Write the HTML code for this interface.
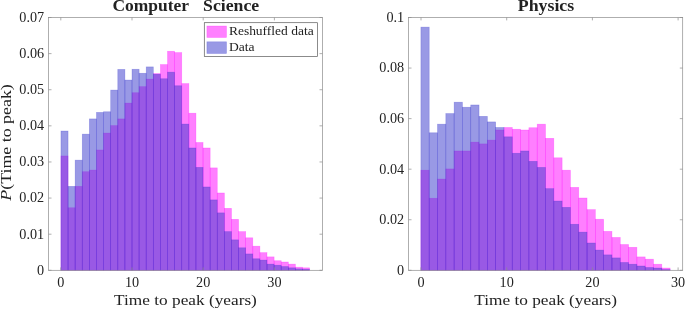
<!DOCTYPE html>
<html><head><meta charset="utf-8"><title>Time to peak</title>
<style>html,body{margin:0;padding:0;background:#fff}svg{display:block;will-change:transform}</style></head>
<body>
<svg width="685" height="309" viewBox="0 0 685 309" font-family="'Liberation Serif', serif" fill="#222">
<rect width="685" height="309" fill="#fff"/>
<g fill="#ff00ff" fill-opacity="0.5" stroke="#ff00ff" stroke-opacity="0.32" stroke-width="0.65">
<rect x="60.95" y="155.96" width="7.105" height="114.34"/>
<rect x="68.06" y="207.75" width="7.105" height="62.55"/>
<rect x="75.16" y="186.37" width="7.105" height="83.93"/>
<rect x="82.27" y="171.71" width="7.105" height="98.59"/>
<rect x="89.37" y="170.08" width="7.105" height="100.22"/>
<rect x="96.48" y="149.97" width="7.105" height="120.33"/>
<rect x="103.58" y="133.07" width="7.105" height="137.23"/>
<rect x="110.69" y="125.59" width="7.105" height="144.71"/>
<rect x="117.79" y="118.91" width="7.105" height="151.39"/>
<rect x="124.90" y="103.09" width="7.105" height="167.21"/>
<rect x="132.00" y="92.73" width="7.105" height="177.57"/>
<rect x="139.11" y="86.66" width="7.105" height="183.64"/>
<rect x="146.21" y="79.11" width="7.105" height="191.19"/>
<rect x="153.31" y="73.59" width="7.105" height="196.71"/>
<rect x="160.42" y="64.56" width="7.105" height="205.74"/>
<rect x="167.53" y="51.27" width="7.105" height="219.03"/>
<rect x="174.63" y="52.57" width="7.105" height="217.73"/>
<rect x="181.74" y="83.59" width="7.105" height="186.71"/>
<rect x="188.84" y="113.20" width="7.105" height="157.10"/>
<rect x="195.94" y="142.49" width="7.105" height="127.81"/>
<rect x="203.05" y="147.98" width="7.105" height="122.32"/>
<rect x="210.16" y="167.88" width="7.105" height="102.42"/>
<rect x="217.26" y="192.98" width="7.105" height="77.32"/>
<rect x="224.37" y="208.33" width="7.105" height="61.97"/>
<rect x="231.47" y="219.34" width="7.105" height="50.96"/>
<rect x="238.57" y="231.62" width="7.105" height="38.68"/>
<rect x="245.68" y="237.80" width="7.105" height="32.50"/>
<rect x="252.79" y="246.18" width="7.105" height="24.12"/>
<rect x="259.89" y="252.64" width="7.105" height="17.66"/>
<rect x="267.00" y="256.87" width="7.105" height="13.43"/>
<rect x="274.10" y="260.73" width="7.105" height="9.57"/>
<rect x="281.21" y="261.99" width="7.105" height="8.31"/>
<rect x="288.31" y="264.12" width="7.105" height="6.18"/>
<rect x="295.42" y="267.19" width="7.105" height="3.11"/>
<rect x="302.52" y="267.84" width="7.105" height="2.46"/>
</g>
<g fill="#3333cc" fill-opacity="0.5" stroke="#3333cc" stroke-opacity="0.32" stroke-width="0.65">
<rect x="60.95" y="131.01" width="7.105" height="139.29"/>
<rect x="68.06" y="186.37" width="7.105" height="83.93"/>
<rect x="75.16" y="160.15" width="7.105" height="110.15"/>
<rect x="82.27" y="134.15" width="7.105" height="136.15"/>
<rect x="89.37" y="118.91" width="7.105" height="151.39"/>
<rect x="96.48" y="112.41" width="7.105" height="157.89"/>
<rect x="103.58" y="111.76" width="7.105" height="158.54"/>
<rect x="110.69" y="90.09" width="7.105" height="180.21"/>
<rect x="117.79" y="69.40" width="7.105" height="200.90"/>
<rect x="124.90" y="80.05" width="7.105" height="190.25"/>
<rect x="132.00" y="69.25" width="7.105" height="201.05"/>
<rect x="139.11" y="73.26" width="7.105" height="197.04"/>
<rect x="146.21" y="66.90" width="7.105" height="203.40"/>
<rect x="153.31" y="74.20" width="7.105" height="196.10"/>
<rect x="160.42" y="78.75" width="7.105" height="191.55"/>
<rect x="167.53" y="72.14" width="7.105" height="198.16"/>
<rect x="174.63" y="85.76" width="7.105" height="184.54"/>
<rect x="181.74" y="124.07" width="7.105" height="146.23"/>
<rect x="188.84" y="147.98" width="7.105" height="122.32"/>
<rect x="195.94" y="167.37" width="7.105" height="102.93"/>
<rect x="203.05" y="186.98" width="7.105" height="83.32"/>
<rect x="210.16" y="199.91" width="7.105" height="70.39"/>
<rect x="217.26" y="212.88" width="7.105" height="57.42"/>
<rect x="224.37" y="231.62" width="7.105" height="38.68"/>
<rect x="231.47" y="239.86" width="7.105" height="30.44"/>
<rect x="238.57" y="247.80" width="7.105" height="22.50"/>
<rect x="245.68" y="253.94" width="7.105" height="16.36"/>
<rect x="252.79" y="258.78" width="7.105" height="11.52"/>
<rect x="259.89" y="260.08" width="7.105" height="10.22"/>
<rect x="267.00" y="264.12" width="7.105" height="6.18"/>
<rect x="274.10" y="265.24" width="7.105" height="5.06"/>
<rect x="281.21" y="266.54" width="7.105" height="3.76"/>
<rect x="288.31" y="267.84" width="7.105" height="2.46"/>
<rect x="295.42" y="268.86" width="7.105" height="1.44"/>
<rect x="302.52" y="269.29" width="7.105" height="1.01"/>
</g>
<g stroke="#8c8c8c" stroke-width="0.7" fill="none">
<rect x="48.6" y="17.5" width="273.80" height="252.80"/>
<path d="M60.80 270.3v-2.9M60.80 17.5v2.9"/>
<path d="M132.00 270.3v-2.9M132.00 17.5v2.9"/>
<path d="M203.20 270.3v-2.9M203.20 17.5v2.9"/>
<path d="M274.40 270.3v-2.9M274.40 17.5v2.9"/>
<path d="M48.6 270.30h2.9M322.4 270.30h-2.9"/>
<path d="M48.6 234.19h2.9M322.4 234.19h-2.9"/>
<path d="M48.6 198.07h2.9M322.4 198.07h-2.9"/>
<path d="M48.6 161.96h2.9M322.4 161.96h-2.9"/>
<path d="M48.6 125.84h2.9M322.4 125.84h-2.9"/>
<path d="M48.6 89.73h2.9M322.4 89.73h-2.9"/>
<path d="M48.6 53.61h2.9M322.4 53.61h-2.9"/>
<path d="M48.6 17.50h2.9M322.4 17.50h-2.9"/>
</g>
<g font-size="14.2">
<text x="60.80" y="286.7" text-anchor="middle">0</text>
<text x="132.00" y="286.7" text-anchor="middle">10</text>
<text x="203.20" y="286.7" text-anchor="middle">20</text>
<text x="274.40" y="286.7" text-anchor="middle">30</text>
<text x="44.20" y="274.65" text-anchor="end">0</text>
<text x="44.20" y="238.54" text-anchor="end">0.01</text>
<text x="44.20" y="202.42" text-anchor="end">0.02</text>
<text x="44.20" y="166.31" text-anchor="end">0.03</text>
<text x="44.20" y="130.19" text-anchor="end">0.04</text>
<text x="44.20" y="94.08" text-anchor="end">0.05</text>
<text x="44.20" y="57.96" text-anchor="end">0.06</text>
<text x="44.20" y="21.85" text-anchor="end">0.07</text>
</g>
<text x="114.10" y="304.5" font-size="15.6" textLength="142.8" lengthAdjust="spacingAndGlyphs">Time to peak (years)</text>
<text x="112.5" y="10.7" font-size="16.0" font-weight="bold" textLength="76.6" lengthAdjust="spacingAndGlyphs">Computer</text>
<text x="203.1" y="10.7" font-size="16.0" font-weight="bold" textLength="56.1" lengthAdjust="spacingAndGlyphs">Science</text>
<g fill="#ff00ff" fill-opacity="0.5" stroke="#ff00ff" stroke-opacity="0.32" stroke-width="0.65">
<rect x="420.90" y="170.19" width="8.307" height="100.11"/>
<rect x="429.21" y="198.25" width="8.307" height="72.05"/>
<rect x="437.51" y="179.04" width="8.307" height="91.26"/>
<rect x="445.82" y="168.93" width="8.307" height="101.37"/>
<rect x="454.13" y="150.98" width="8.307" height="119.32"/>
<rect x="462.44" y="150.98" width="8.307" height="119.32"/>
<rect x="470.74" y="142.13" width="8.307" height="128.17"/>
<rect x="479.05" y="143.90" width="8.307" height="126.40"/>
<rect x="487.36" y="140.11" width="8.307" height="130.19"/>
<rect x="495.66" y="130.00" width="8.307" height="140.30"/>
<rect x="503.97" y="127.47" width="8.307" height="142.83"/>
<rect x="512.28" y="129.24" width="8.307" height="141.06"/>
<rect x="520.58" y="130.00" width="8.307" height="140.30"/>
<rect x="528.89" y="127.72" width="8.307" height="142.58"/>
<rect x="537.20" y="124.18" width="8.307" height="146.12"/>
<rect x="545.50" y="138.34" width="8.307" height="131.96"/>
<rect x="553.81" y="157.80" width="8.307" height="112.50"/>
<rect x="562.12" y="170.19" width="8.307" height="100.11"/>
<rect x="570.43" y="187.38" width="8.307" height="82.92"/>
<rect x="578.73" y="198.00" width="8.307" height="72.30"/>
<rect x="587.04" y="209.63" width="8.307" height="60.67"/>
<rect x="595.35" y="219.23" width="8.307" height="51.07"/>
<rect x="603.65" y="231.37" width="8.307" height="38.93"/>
<rect x="611.96" y="237.44" width="8.307" height="32.86"/>
<rect x="620.27" y="244.51" width="8.307" height="25.79"/>
<rect x="628.58" y="247.30" width="8.307" height="23.00"/>
<rect x="636.88" y="256.90" width="8.307" height="13.40"/>
<rect x="645.19" y="259.18" width="8.307" height="11.12"/>
<rect x="653.50" y="264.23" width="8.307" height="6.07"/>
<rect x="661.80" y="268.02" width="8.307" height="2.28"/>
</g>
<g fill="#3333cc" fill-opacity="0.5" stroke="#3333cc" stroke-opacity="0.32" stroke-width="0.65">
<rect x="420.90" y="27.11" width="8.307" height="243.19"/>
<rect x="429.21" y="132.78" width="8.307" height="137.52"/>
<rect x="437.51" y="124.18" width="8.307" height="146.12"/>
<rect x="445.82" y="113.56" width="8.307" height="156.74"/>
<rect x="454.13" y="102.19" width="8.307" height="168.11"/>
<rect x="462.44" y="107.24" width="8.307" height="163.06"/>
<rect x="470.74" y="104.97" width="8.307" height="165.33"/>
<rect x="479.05" y="116.34" width="8.307" height="153.96"/>
<rect x="487.36" y="121.91" width="8.307" height="148.39"/>
<rect x="495.66" y="127.47" width="8.307" height="142.83"/>
<rect x="503.97" y="136.82" width="8.307" height="133.48"/>
<rect x="512.28" y="153.25" width="8.307" height="117.05"/>
<rect x="520.58" y="150.98" width="8.307" height="119.32"/>
<rect x="528.89" y="161.34" width="8.307" height="108.96"/>
<rect x="537.20" y="167.41" width="8.307" height="102.89"/>
<rect x="545.50" y="188.65" width="8.307" height="81.65"/>
<rect x="553.81" y="201.03" width="8.307" height="69.27"/>
<rect x="562.12" y="207.35" width="8.307" height="62.95"/>
<rect x="570.43" y="224.29" width="8.307" height="46.01"/>
<rect x="578.73" y="232.13" width="8.307" height="38.17"/>
<rect x="587.04" y="243.00" width="8.307" height="27.30"/>
<rect x="595.35" y="250.08" width="8.307" height="20.22"/>
<rect x="603.65" y="254.88" width="8.307" height="15.42"/>
<rect x="611.96" y="257.91" width="8.307" height="12.39"/>
<rect x="620.27" y="262.46" width="8.307" height="7.84"/>
<rect x="628.58" y="264.23" width="8.307" height="6.07"/>
<rect x="636.88" y="266.00" width="8.307" height="4.30"/>
<rect x="645.19" y="267.52" width="8.307" height="2.78"/>
<rect x="653.50" y="268.02" width="8.307" height="2.28"/>
<rect x="661.80" y="269.54" width="8.307" height="0.76"/>
</g>
<g stroke="#8c8c8c" stroke-width="0.7" fill="none">
<rect x="408.6" y="17.5" width="274.10" height="252.80"/>
<path d="M421.00 270.3v-2.9M421.00 17.5v2.9"/>
<path d="M506.70 270.3v-2.9M506.70 17.5v2.9"/>
<path d="M592.40 270.3v-2.9M592.40 17.5v2.9"/>
<path d="M678.10 270.3v-2.9M678.10 17.5v2.9"/>
<path d="M408.6 270.30h2.9M682.7 270.30h-2.9"/>
<path d="M408.6 219.74h2.9M682.7 219.74h-2.9"/>
<path d="M408.6 169.18h2.9M682.7 169.18h-2.9"/>
<path d="M408.6 118.62h2.9M682.7 118.62h-2.9"/>
<path d="M408.6 68.06h2.9M682.7 68.06h-2.9"/>
<path d="M408.6 17.50h2.9M682.7 17.50h-2.9"/>
</g>
<g font-size="14.2">
<text x="421.00" y="286.7" text-anchor="middle">0</text>
<text x="506.70" y="286.7" text-anchor="middle">10</text>
<text x="592.40" y="286.7" text-anchor="middle">20</text>
<text x="678.10" y="286.7" text-anchor="middle">30</text>
<text x="404.20" y="274.65" text-anchor="end">0</text>
<text x="404.20" y="224.09" text-anchor="end">0.02</text>
<text x="404.20" y="173.53" text-anchor="end">0.04</text>
<text x="404.20" y="122.97" text-anchor="end">0.06</text>
<text x="404.20" y="72.41" text-anchor="end">0.08</text>
<text x="404.20" y="21.85" text-anchor="end">0.1</text>
</g>
<text x="474.25" y="304.5" font-size="15.6" textLength="142.8" lengthAdjust="spacingAndGlyphs">Time to peak (years)</text>
<text x="517.8" y="10.7" font-size="16.0" font-weight="bold" textLength="56.4" lengthAdjust="spacingAndGlyphs">Physics</text>
<text transform="translate(11.2 200.7) rotate(-90)" font-size="15.6" textLength="116.5" lengthAdjust="spacingAndGlyphs"><tspan font-style="italic">P</tspan>(Time to peak)</text>
<rect x="204.3" y="22.7" width="113.2" height="33.8" fill="#fff" stroke="#5a5a5a" stroke-width="0.7"/>
<rect x="206.9" y="26" width="19.6" height="11.5" fill="#ff00ff" fill-opacity="0.5" stroke="#ff00ff" stroke-opacity="0.32" stroke-width="0.65"/>
<rect x="206.9" y="41.8" width="19.6" height="11.7" fill="#3333cc" fill-opacity="0.5" stroke="#3333cc" stroke-opacity="0.32" stroke-width="0.65"/>
<text x="228.9" y="35.1" font-size="12.8" textLength="84.8" lengthAdjust="spacingAndGlyphs">Reshuffled data</text>
<text x="228.9" y="50.6" font-size="12.8" textLength="25.6" lengthAdjust="spacingAndGlyphs">Data</text>
</svg>
</body></html>
